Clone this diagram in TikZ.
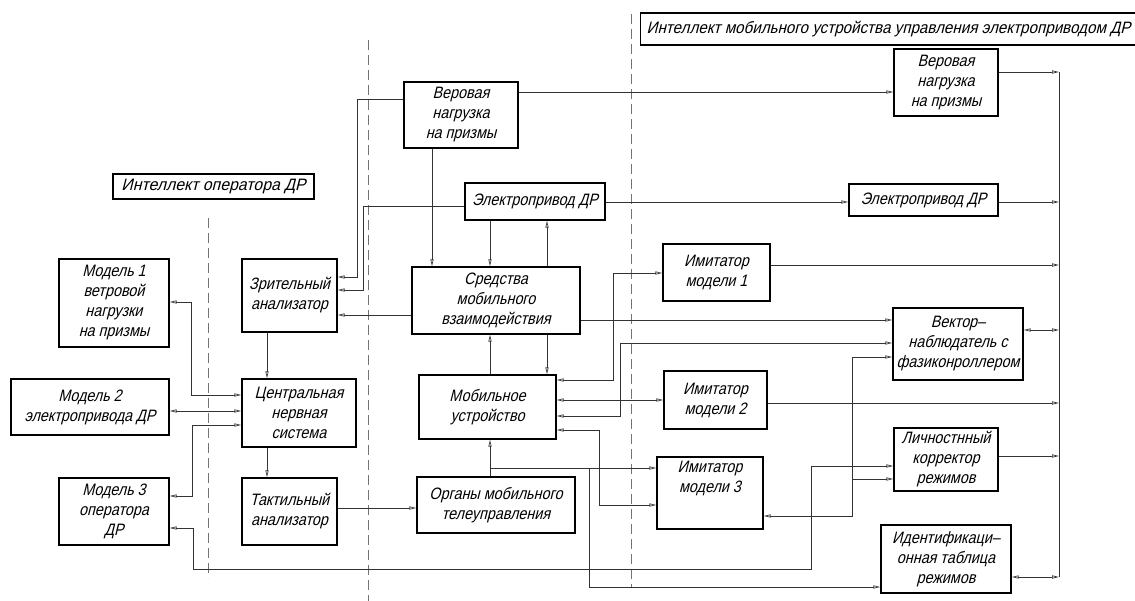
\documentclass[tikz,border=0pt]{standalone}
\usepackage{fontspec}
\setmainfont{Liberation Sans}[FakeSlant=0.25,FakeStretch=0.87]
\newfontfamily\widefont{Liberation Sans}[FakeSlant=0.25,FakeStretch=0.96]
\newfontfamily\midfont{Liberation Sans}[FakeSlant=0.25,FakeStretch=0.92]
\usetikzlibrary{arrows.meta}
\begin{document}
\begin{tikzpicture}[x=1pt,y=-1pt,
  font=\fontsize{16.5}{20}\selectfont,
  >={Triangle[open,length=7pt,width=3.2pt]},
  box/.style={draw,line width=1.3pt,align=center,inner sep=2pt},
  titlebox/.style={box,font=\widefont\fontsize{16.5}{20}\selectfont},
  titlebox2/.style={box,font=\midfont\fontsize{16.5}{20}\selectfont},
  con/.style={line width=0.7pt,draw=black!80},
  dsh/.style={draw=black!55,line width=0.9pt,dash pattern=on 10pt off 5pt}]
\useasboundingbox (0,0) rectangle (1135,601);
\clip (0,0) rectangle (1135,601);
% dashed separators
\draw[dsh] (208,218) -- (208,578);
\draw[dsh] (368,40) -- (368,601);
\draw[dsh] (631,14) -- (631,588);
% titles
\node[titlebox,minimum width=201pt,minimum height=25pt] (t1) at (213.5,186.5) {Интеллект оператора ДР};
\node[titlebox2,anchor=west,minimum height=32pt,inner xsep=6pt] (t2) at (640,29) {Интеллект мобильного устройства управления электроприводом ДР\hspace{40pt}};
% left boxes
\node[box,minimum width=110pt,minimum height=88pt] (m1) at (114,303) {Модель 1\\ветровой\\нагрузки\\на призмы};
\node[box,minimum width=95pt,minimum height=73pt] (za) at (289.5,295.5) {Зрительный\\анализатор};
\node[box,minimum width=158pt,minimum height=56pt] (m2) at (90,407) {Модель 2\\электропривода ДР};
\node[box,minimum width=114pt,minimum height=68pt] (cns) at (299,413) {Центральная\\нервная\\система};
\node[box,minimum width=110pt,minimum height=67pt] (m3) at (114,511.5) {Модель 3\\оператора\\ДР};
\node[box,minimum width=95pt,minimum height=67pt] (ta) at (289.5,511.5) {Тактильный\\анализатор};
% middle boxes
\node[box,minimum width=114pt,minimum height=66pt] (vn) at (461,115) {Веровая\\нагрузка\\на призмы};
\node[box,minimum width=140pt,minimum height=37pt] (ep) at (535,201.5) {Электропривод ДР};
\node[box,minimum width=168pt,minimum height=67pt] (sr) at (496,300.5) {Средства\\мобильного\\взаимодействия};
\node[box,minimum width=137pt,minimum height=64pt] (mu) at (487.5,407) {Мобильное\\устройство};
\node[box,minimum width=158pt,minimum height=56pt] (org) at (496,505) {Органы мобильного\\телеуправления};
% right boxes
\node[box,minimum width=104pt,minimum height=67pt] (vn2) at (946,82.5) {Веровая\\нагрузка\\на призмы};
\node[box,minimum width=149pt,minimum height=32pt] (ep2) at (923.5,200) {Электропривод ДР};
\node[box,minimum width=107pt,minimum height=57pt] (im1) at (716.5,272.5) {Имитатор\\модели 1};
\node[box,minimum width=130pt,minimum height=72pt] (vec) at (958,344) {Вектор--\\наблюдатель с\\фазиконроллером};
\node[box,minimum width=103pt,minimum height=58pt] (im2) at (715.5,400) {Имитатор\\модели 2};
\node[box,minimum width=104pt,minimum height=63pt] (lk) at (946,459.5) {Личностнный\\корректор\\режимов};
\node[box,minimum width=106pt,minimum height=72pt] (im3) at (710,493) {Имитатор\\модели 3\\[12pt]};
\node[box,minimum width=130pt,minimum height=68pt] (id) at (946,559) {Идентификаци--\\онная таблица\\режимов};
% bus
\coordinate (bt) at (1059,72);
\coordinate (bb) at (1059,577);
\draw[con] (bt) -- (bb);
% left part connectors
\draw[con,->] (vn.west |- 0,99) -| (357,277) -- (za.east |- 0,277);
\draw[con,->] (ep.west |- 0,206) -| (363,290) -- (za.east |- 0,290);
\draw[con,->] (sr.west |- 0,315) -- (za.east |- 0,315);
\draw[con,->] (za.south -| 267,0) -- (cns.north -| 267,0);
\draw[con,<->] (m1.east |- 0,302) -| (191,395) -- (cns.west |- 0,395);
\draw[con,<->] (m2.east |- 0,411) -- (cns.west |- 0,411);
\draw[con,<->] (m3.east |- 0,496) -| (192,425) -- (cns.west |- 0,425);
\draw[con,->] (cns.south -| 267,0) -- (ta.north -| 267,0);
\draw[con,->] (ta.east |- 0,508) -- (org.west |- 0,508);
\draw[con,<->] (m3.east |- 0,528) -| (193,569) -| (811,466) -- (lk.west |- 0,466);
% middle connectors
\draw[con,->] (vn.south -| 432,0) -- (sr.north -| 432,0);
\draw[con,->] (ep.south -| 490,0) -- (sr.north -| 490,0);
\draw[con,->] (sr.north -| 547,0) -- (ep.south -| 547,0);
\draw[con,<-] (sr.south -| 490,0) -- (mu.north -| 490,0);
\draw[con,->] (sr.south -| 547,0) -- (mu.north -| 547,0);
\draw[con,->] (org.north -| 490,0) -- (mu.south -| 490,0);
\coordinate (j1) at (490,468);
\coordinate (j2) at (589,468);
\draw[con,->] (j1) -- (im3.west |- j1);
\draw[con,->] (j2) -- (589,587) -- (id.west |- 0,587);
\draw[con,<->] (mu.east |- 0,380) -| (613,273) -- (im1.west |- 0,273);
\draw[con,<->] (mu.east |- 0,400) -- (im2.west |- 0,400);
\draw[con,<->] (mu.east |- 0,416) -| (620,343) -- (vec.west |- 0,343);
\draw[con,<->] (mu.east |- 0,430) -| (599,505) -- (im3.west |- 0,505);
\draw[con,->] (sr.east |- 0,320) -- (vec.west |- 0,320);
\draw[con,->] (vn.east |- 0,92) -- (vn2.west |- 0,92);
\draw[con,->] (ep.east |- 0,202) -- (ep2.west |- 0,202);
% right connectors
\coordinate (j3) at (852,479);
\draw[con,<->] (vec.west |- 0,357) -| (852,516) -- (im3.east |- 0,516);
\draw[con,->] (j3) -- (lk.west |- j3);
\draw[con,->] (vn2.east |- 0,72) -- (bt);
\draw[con,->] (ep2.east |- 0,202) -- (bt |- 0,202);
\draw[con,->] (im1.east |- 0,265) -- (bt |- 0,265);
\draw[con,<->] (vec.east |- 0,330) -- (bt |- 0,330);
\draw[con,->] (im2.east |- 0,403) -- (bt |- 0,403);
\draw[con,->] (lk.east |- 0,456) -- (bt |- 0,456);
\draw[con,<->] (id.east |- 0,577) -- (bb);
\end{tikzpicture}
\end{document}
